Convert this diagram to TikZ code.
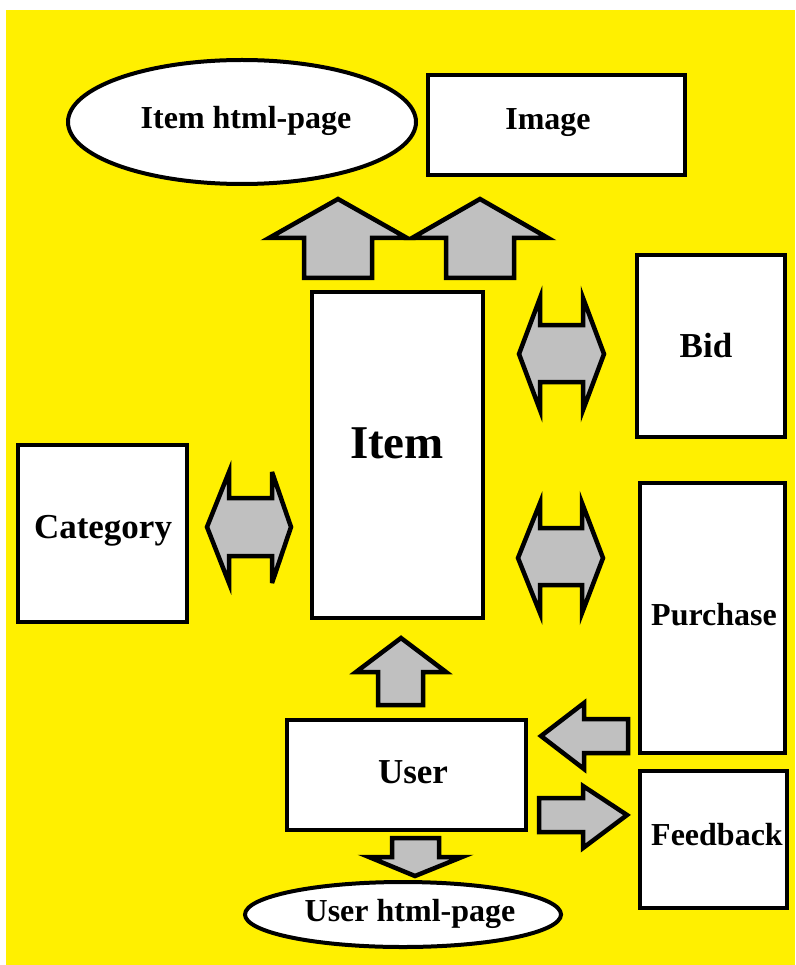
\documentclass[tikz,border=0pt]{standalone}
\usepackage{fontspec}
\setmainfont{Liberation Serif}
\usetikzlibrary{shapes.geometric}
\definecolor{bgyellow}{RGB}{255,240,0}
\definecolor{arrowgray}{RGB}{192,192,192}
\begin{document}
\begin{tikzpicture}[x=1pt,y=-1pt,
  box/.style={draw=black,line width=4.5pt,fill=white,rectangle,inner sep=0pt},
  oval/.style={draw=black,line width=4pt,fill=white,ellipse,inner sep=0pt},
  lbl/.style={font=\fontsize{32}{36}\selectfont\bfseries,inner sep=0pt},
  biglbl/.style={font=\fontsize{35}{40}\selectfont\bfseries,inner sep=0pt},
  blk/.style={draw=black,fill=arrowgray,line width=4.5pt,line join=miter,miter limit=6}]
  \useasboundingbox (0,0) rectangle (795,965);
  \fill[bgyellow] (6,10) rectangle (795,965);

  % entity boxes and pages
  \node[oval,minimum width=348pt,minimum height=124pt] (itempage) at (242,122) {};
  \node[lbl] (itempagelbl) at (246,121) {Item html-page};
  \node[box,minimum width=257pt,minimum height=100pt] (image) at (556.5,125) {};
  \node[lbl] (imagelbl) at (548,123) {Image};
  \node[box,minimum width=171pt,minimum height=326pt] (item) at (397.5,455) {};
  \node[lbl,font=\fontsize{47}{52}\selectfont\bfseries] (itemlbl) at (397,443) {Item};
  \node[box,minimum width=148pt,minimum height=182pt] (bid) at (711,346) {};
  \node[biglbl] (bidlbl) at (706,346) {Bid};
  \node[box,minimum width=169pt,minimum height=177pt] (category) at (102.5,533.5) {};
  \node[biglbl] (categorylbl) at (103,531) {Category};
  \node[box,minimum width=145pt,minimum height=270pt] (purchase) at (712.5,618) {};
  \node[lbl] (purchaselbl) at (714,615) {Purchase};
  \node[box,minimum width=147pt,minimum height=137pt] (feedback) at (713.5,839.5) {};
  \node[lbl] (feedbacklbl) at (717,835) {Feedback};
  \node[box,minimum width=239pt,minimum height=110pt] (user) at (406.5,775) {};
  \node[biglbl] (userlbl) at (413,772) {User};
  \node[oval,minimum width=316pt,minimum height=65pt] (userpage) at (403,914.5) {};
  \node[lbl] (userpagelbl) at (410,914) {User html-page};

  % block arrows: Item up to its pages
  \draw[blk] (304,278) -- (304,238) -- (269,238) -- (338,199) -- (407,238) -- (372,238) -- (372,278) -- cycle;
  \draw[blk] (446,278) -- (446,238) -- (412,238) -- (480,199) -- (548,238) -- (514,238) -- (514,278) -- cycle;

  % two-way links
  \draw[blk] (519,354) -- (540,298) -- (540,325) -- (583,325) -- (583,298) -- (604,354) -- (583,410) -- (583,382) -- (540,382) -- (540,410) -- cycle;
  \draw[blk] (518,558) -- (540,503) -- (540,528) -- (582,528) -- (582,503) -- (603,558) -- (582,613) -- (582,585) -- (540,585) -- (540,613) -- cycle;
  \draw[blk] (207,527) -- (229,472) -- (229,498) -- (272,498) -- (272,472) -- (291,527) -- (272,583) -- (272,556) -- (229,556) -- (229,583) -- cycle;

  % User links
  \draw[blk] (378,705) -- (378,672) -- (356,672) -- (401,638) -- (446,672) -- (423,672) -- (423,705) -- cycle;
  \draw[blk] (628,719) -- (584,719) -- (584,703) -- (541,736) -- (584,769) -- (584,753) -- (628,753) -- cycle;
  \draw[blk] (539,798) -- (583,798) -- (583,786) -- (627,815) -- (583,848) -- (583,832) -- (539,832) -- cycle;
  \draw[blk] (392,838) -- (439,838) -- (439,857) -- (462,857) -- (415,876) -- (369,857) -- (392,857) -- cycle;
\end{tikzpicture}
\end{document}
